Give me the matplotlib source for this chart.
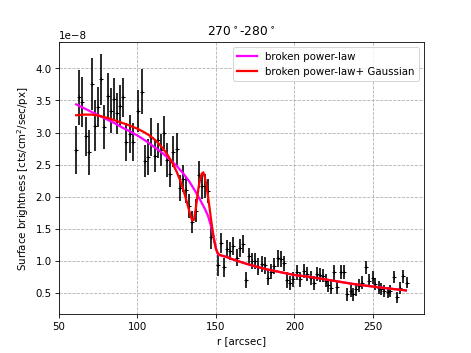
import matplotlib
matplotlib.use("Agg")
import matplotlib.pyplot as plt

# radial profile, values in units of 1e-8
r_data = [61, 63, 65, 67, 69, 71, 73, 75, 77, 79,
          81, 83, 85, 87, 89, 91, 93, 95, 97, 100.1,
          102.7, 104.8, 106.8, 108.9, 110.9, 113, 114.9, 116.9, 119, 121,
          123, 125.2, 127, 129, 131, 133, 135.1, 137.2, 139.3, 141.2,
          143, 145, 147.2, 151.1, 153.2, 155.2, 157.3, 159.2, 161.2, 163.3,
          165.2, 167, 169.2, 171.2, 173.3, 175, 177.1, 179.3, 181.2, 183.5,
          185.2, 187.3, 189.4, 191.4, 193.4, 195.3, 197.2, 199.3, 201.7, 203.8,
          206, 208.1, 210.3, 212.4, 214.5, 216.6, 218.1, 219.9, 221.6, 223.1,
          225.2, 227.3, 229.5, 231.6, 233.8, 235.9, 237.4, 239.5, 241.2, 242.9,
          245.5, 247.6, 249.8, 251.5, 253.6, 255.1, 257.2, 259.4, 260.9, 263.2,
          265.4, 267.3, 269.4, 271.6]
sb_data = [2.73, 3.55, 3.47, 2.94, 2.69, 3.76, 3.11, 3.40, 3.83, 3.09,
           3.57, 3.34, 3.53, 3.30, 3.42, 3.55, 2.85, 2.98, 2.85, 3.34,
           3.64, 2.55, 2.62, 2.93, 2.64, 2.88, 2.73, 3.00, 2.57, 2.36,
           2.70, 2.75, 2.14, 2.28, 2.10, 1.86, 1.60, 1.78, 2.34, 2.17,
           2.17, 2.09, 1.38, 0.93, 1.28, 0.90, 1.18, 1.15, 1.23, 1.05,
           1.20, 1.26, 0.70, 1.07, 1.00, 1.00, 0.91, 0.95, 0.93, 0.74,
           0.83, 0.92, 1.04, 1.03, 0.96, 0.70, 0.66, 0.71, 0.82, 0.71,
           0.84, 0.79, 0.74, 0.66, 0.79, 0.78, 0.77, 0.69, 0.62, 0.58,
           0.82, 0.59, 0.82, 0.82, 0.48, 0.53, 0.48, 0.56, 0.61, 0.66,
           0.90, 0.69, 0.74, 0.64, 0.58, 0.56, 0.53, 0.51, 0.53, 0.75,
           0.43, 0.58, 0.76, 0.66]
sb_err = [0.37, 0.43, 0.39, 0.30, 0.35, 0.41, 0.40, 0.31, 0.40, 0.34,
          0.36, 0.35, 0.32, 0.32, 0.32, 0.30, 0.30, 0.30, 0.30, 0.33,
          0.35, 0.25, 0.28, 0.29, 0.25, 0.27, 0.25, 0.26, 0.27, 0.21,
          0.24, 0.25, 0.20, 0.21, 0.20, 0.19, 0.17, 0.18, 0.21, 0.20,
          0.19, 0.19, 0.20, 0.16, 0.16, 0.15, 0.14, 0.14, 0.14, 0.13,
          0.14, 0.14, 0.13, 0.13, 0.13, 0.13, 0.13, 0.13, 0.13, 0.12,
          0.12, 0.12, 0.13, 0.12, 0.12, 0.12, 0.11, 0.11, 0.12, 0.11,
          0.11, 0.11, 0.11, 0.11, 0.11, 0.11, 0.10, 0.10, 0.10, 0.10,
          0.12, 0.10, 0.11, 0.11, 0.10, 0.10, 0.10, 0.10, 0.10, 0.10,
          0.10, 0.10, 0.10, 0.10, 0.10, 0.09, 0.09, 0.09, 0.09, 0.10,
          0.08, 0.09, 0.10, 0.09]

# broken power-law fit
r_bpl = [61, 66, 71, 76, 81, 86, 91, 96, 101, 106,
         111, 116, 121, 125, 129, 133, 137, 140, 143, 145,
         147, 148, 149, 150, 151, 152, 154, 157, 160, 165,
         170, 176, 182, 190, 200, 210, 220, 230, 240, 250,
         260, 271]
sb_bpl = [3.44, 3.38, 3.32, 3.26, 3.20, 3.14, 3.07, 3.01, 2.94, 2.86,
          2.77, 2.68, 2.57, 2.48, 2.37, 2.24, 2.08, 1.95, 1.81, 1.70,
          1.53, 1.43, 1.32, 1.20, 1.12, 1.09, 1.08, 1.06, 1.03, 0.99,
          0.95, 0.91, 0.87, 0.83, 0.78, 0.75, 0.71, 0.67, 0.63, 0.60,
          0.57, 0.54]

# broken power-law + Gaussian fit
r_bplg = [61, 66, 71, 76, 82, 88, 94, 100, 104, 108,
          112, 116, 119, 122, 125, 127, 129, 131, 133, 134,
          135, 136, 137, 138, 139, 140, 141, 142, 143, 144,
          145, 146, 147, 148, 149, 150, 151, 152, 154, 157,
          160, 165, 170, 176, 182, 190, 200, 210, 220, 230,
          240, 250, 260, 271]
sb_bplg = [3.27, 3.28, 3.28, 3.26, 3.22, 3.17, 3.12, 3.06, 3.01, 2.95,
           2.87, 2.76, 2.66, 2.54, 2.39, 2.27, 2.13, 1.96, 1.78, 1.69,
           1.63, 1.64, 1.78, 1.97, 2.15, 2.28, 2.36, 2.38, 2.30, 2.17,
           2.00, 1.82, 1.63, 1.46, 1.30, 1.19, 1.13, 1.10, 1.08, 1.06,
           1.03, 0.99, 0.95, 0.91, 0.87, 0.83, 0.78, 0.75, 0.71, 0.67,
           0.63, 0.60, 0.57, 0.54]

scale = 1e-8

fig, ax = plt.subplots(figsize=(6.4, 4.8), dpi=73.6)

ax.errorbar(r_data, [v * scale for v in sb_data], yerr=[e * scale for e in sb_err],
            fmt="k+", ms=4, elinewidth=1.6, zorder=2)
ax.plot(r_bpl, [v * scale for v in sb_bpl], color="magenta", lw=2.2,
        label="broken power-law", zorder=3)
ax.plot(r_bplg, [v * scale for v in sb_bplg], color="red", lw=2.2,
        label="broken power-law+ Gaussian", zorder=4)

ax.set_xlim(50, 282.5)
ax.set_ylim(0.17e-8, 4.41e-8)
ax.grid(True, linestyle="--", color="#b0b0b0")
ax.set_title(r"270$^\circ$-280$^\circ$")
ax.set_xlabel("r [arcsec]")
ax.set_ylabel(r"Surface brightness [cts/cm$^2$/sec/px]")
ax.legend(loc="upper right")

fig.savefig("out.png", dpi=73.6)
